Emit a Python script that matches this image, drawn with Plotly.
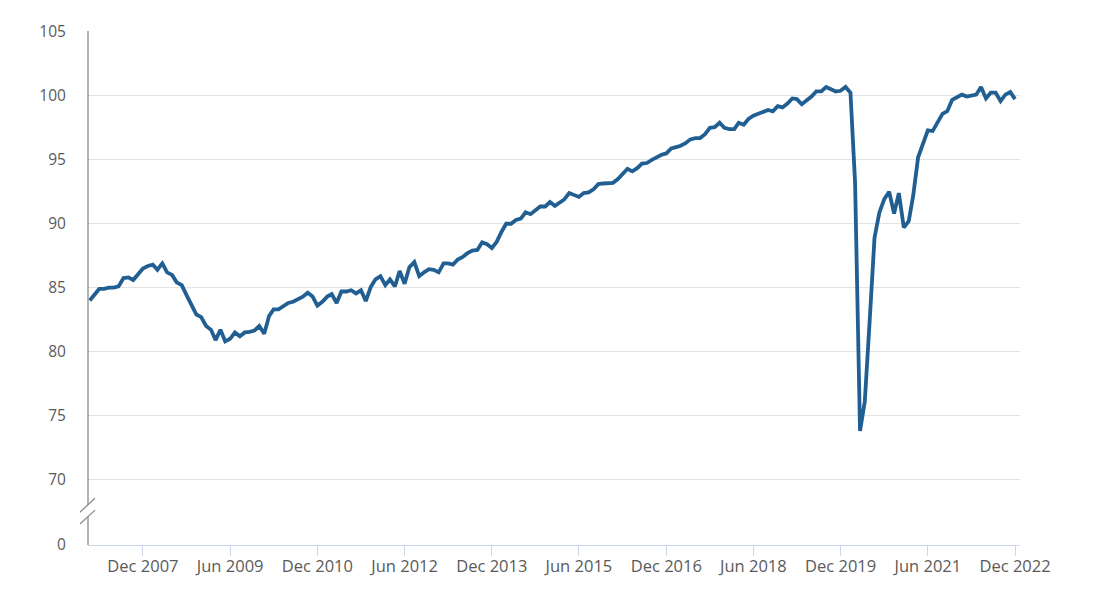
import pandas as pd
import plotly.graph_objects as go

# monthly index values, Jan 2007 - Dec 2022
start = "2007-01-01"
values = [
    84.0, 84.5, 84.9, 84.9, 85.0, 85.0, 85.1, 85.75, 85.8, 85.6, 86.1, 86.5,
    86.7, 86.8, 86.4, 86.9, 86.2, 86.0, 85.4, 85.2, 84.4, 83.65, 82.9, 82.7,
    82.0, 81.7, 80.9, 81.7, 80.8, 81.0, 81.5, 81.2, 81.5, 81.55, 81.65, 82.0,
    81.4, 82.8, 83.3, 83.3, 83.55, 83.8, 83.9, 84.1, 84.3, 84.6, 84.3, 83.6,
    83.9, 84.3, 84.5, 83.8, 84.7, 84.7, 84.8, 84.55, 84.8, 83.95, 85.05, 85.65,
    85.9, 85.2, 85.65, 85.1, 86.3, 85.3, 86.6, 87.0, 85.9, 86.2, 86.45, 86.4,
    86.2, 86.9, 86.9, 86.8, 87.2, 87.4, 87.7, 87.9, 87.95, 88.55, 88.4, 88.1,
    88.6, 89.4, 90.0, 90.0, 90.3, 90.4, 90.9, 90.75, 91.1, 91.35, 91.35, 91.7,
    91.4, 91.7, 91.9, 92.4, 92.25, 92.1, 92.4, 92.45, 92.7, 93.1, 93.15, 93.2,
    93.2, 93.5, 93.85, 94.3, 94.1, 94.35, 94.7, 94.75, 95.0, 95.2, 95.4, 95.5,
    95.9, 96.0, 96.1, 96.3, 96.6, 96.7, 96.7, 97.0, 97.5, 97.55, 97.9, 97.5,
    97.4, 97.4, 97.9, 97.75, 98.2, 98.45, 98.6, 98.8, 98.9, 98.8, 99.2, 99.1,
    99.4, 99.8, 99.75, 99.35, 99.65, 99.95, 100.35, 100.35, 100.7, 100.5, 100.35, 100.4,
    100.7, 100.25, 93.2, 73.8, 76.1, 82.5, 88.9, 90.9, 91.95, 92.5, 90.8, 92.4,
    89.7, 90.2, 92.2, 95.2, 96.3, 97.3, 97.25, 98.0, 98.6, 98.8, 99.7, 99.9,
    100.1, 99.95, 100.0, 100.1, 100.7, 99.8, 100.25, 100.25, 99.6, 100.1, 100.3, 99.75,
]
dates = pd.date_range(start, periods=len(values), freq="MS")

# axis break: "0" sits just below 70
ZERO_POS = 64.87
y_vals = [ZERO_POS, 70, 75, 80, 85, 90, 95, 100, 105]
y_text = ["0", "70", "75", "80", "85", "90", "95", "100", "105"]

x_ticks = ["2007-12-01", "2009-06-01", "2010-12-01", "2012-06-01", "2013-12-01",
           "2015-06-01", "2016-12-01", "2018-06-01", "2019-12-01", "2021-06-01",
           "2022-12-01"]
x_text = ["Dec 2007", "Jun 2009", "Dec 2010", "Jun 2012", "Dec 2013", "Jun 2015",
          "Dec 2016", "Jun 2018", "Dec 2019", "Jun 2021", "Dec 2022"]

LINE = "#215f93"
AXIS = "#8c8c8c"
FONT = "#5a5a5a"

fig = go.Figure(
    go.Scatter(x=dates, y=values, mode="lines",
               line=dict(color=LINE, width=3.8), hoverinfo="x+y")
)

# page body adds an 8px offset, margins compensate for it
fig.update_layout(
    width=1093, height=592,
    margin=dict(l=80, r=81, t=21, b=55),
    plot_bgcolor="white", paper_bgcolor="white",
    showlegend=False,
    font=dict(family="Open Sans", size=15, color=FONT),
    xaxis=dict(
        range=["2006-12-21", "2023-01-01"],
        tickvals=x_ticks, ticktext=x_text,
        tickfont=dict(size=16.5),
        showgrid=False, zeroline=False,
        showline=True, linecolor="#ccd6eb", linewidth=1,
        ticks="outside", ticklen=10, tickcolor="#ccd6eb",
        ticklabelstandoff=-4,
    ),
    yaxis=dict(
        range=[ZERO_POS, 105],
        tickvals=y_vals, ticktext=y_text,
        tickfont=dict(size=15.5),
        showgrid=True, gridcolor="#e3e3e3", gridwidth=1,
        zeroline=False, showline=False,
        ticks="outside", ticklen=18, tickcolor="rgba(0,0,0,0)",
    ),
)

# y axis line drawn in two pieces with a break marker
shape_line = dict(color=AXIS, width=1.3)
fig.add_shape(type="line", xref="paper", yref="paper", x0=0, x1=0, y0=0.078, y1=1.002,
              line=shape_line, layer="above")
fig.add_shape(type="line", xref="paper", yref="paper", x0=0, x1=0, y0=0, y1=0.055,
              line=shape_line, layer="above")
fig.add_shape(type="line", xref="paper", yref="paper", x0=-0.0086, x1=0.0075,
              y0=0.064, y1=0.091, line=shape_line, layer="above")
fig.add_shape(type="line", xref="paper", yref="paper", x0=-0.0086, x1=0.0075,
              y0=0.041, y1=0.068, line=shape_line, layer="above")

fig.write_html("out.html")
